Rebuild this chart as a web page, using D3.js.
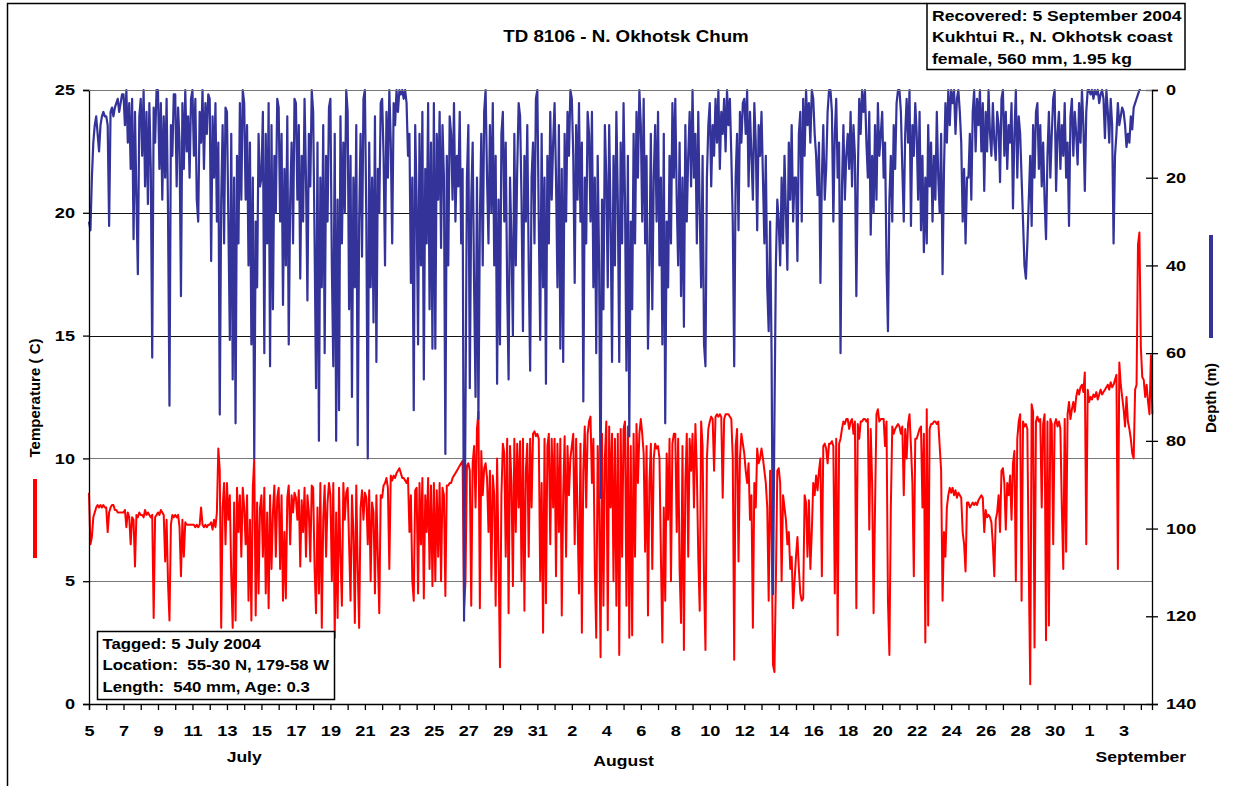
<!DOCTYPE html>
<html>
<head>
<meta charset="utf-8">
<script src="https://cdn.jsdelivr.net/npm/d3@7/dist/d3.min.js"></script>
<style>
  body { margin: 0; background: #fff; }
  svg { display: block; font-family: "Liberation Sans", Arial, sans-serif; font-weight: bold; }
</style>
</head>
<body>
<svg id="chart1" width="1239" height="786"></svg>
<script>
// logger samples, one every 2 hours from 5 July 00:00
const START_DATE = new Date(2004, 6, 5);
const END_DATE = new Date(2004, 8, 4, 15, 30);
const SAMPLES_PER_DAY = 12;

const temperatureC = [
  8.6, 6.5, 6.8, 7.6, 7.8, 8.0, 8.1, 8.0, 8.1, 8.0, 8.1, 8.0, // Jul 5
  8.0, 7.0, 7.8, 8.0, 8.1, 8.1, 7.9, 7.9, 7.8, 7.8, 7.8, 7.8,
  7.8, 7.9, 7.2, 7.8, 7.6, 6.5, 7.6, 7.5, 5.6, 7.7, 7.6, 7.8,
  7.7, 7.7, 7.6, 7.9, 7.7, 7.8, 7.7, 7.6, 7.7, 3.5, 7.6, 7.7,
  7.8, 7.7, 7.9, 7.8, 7.7, 5.8, 7.5, 4.9, 3.4, 7.3, 7.7, 7.6,
  7.7, 7.6, 7.7, 7.2, 5.2, 7.5, 6.0, 7.4, 7.3, 7.3, 7.3, 7.3, // Jul 10
  7.3, 7.3, 7.2, 7.3, 7.2, 7.3, 8.0, 7.3, 7.2, 7.3, 7.2, 7.3,
  7.3, 7.4, 7.1, 7.5, 7.2, 7.8, 10.4, 9.5, 3.1, 8.0, 9.0, 6.5,
  9.0, 7.5, 8.5, 5.2, 3.1, 8.2, 3.4, 8.8, 7.0, 8.5, 6.0, 8.8,
  8.0, 6.5, 8.5, 4.2, 7.5, 3.4, 8.8, 10.0, 3.6, 8.2, 4.5, 8.0,
  8.5, 6.0, 8.8, 4.5, 7.8, 3.9, 8.5, 5.5, 7.8, 8.9, 6.0, 8.4, // Jul 15
  8.8, 5.5, 8.5, 4.2, 7.0, 4.3, 8.4, 8.9, 6.5, 8.5, 7.8, 8.6,
  8.4, 7.5, 8.7, 5.6, 8.3, 7.0, 8.8, 6.0, 8.5, 7.8, 5.8, 8.9,
  8.8, 5.5, 3.7, 8.0, 4.5, 9.0, 3.1, 7.5, 8.9, 6.0, 8.2, 9.0,
  8.5, 5.0, 9.0, 2.7, 7.8, 3.5, 8.8, 6.0, 4.0, 9.0, 7.5, 8.6,
  8.8, 6.5, 4.2, 8.5, 7.0, 3.3, 8.9, 5.5, 3.1, 8.0, 8.7, 7.5, // Jul 20
  8.6, 8.4, 6.5, 8.7, 5.0, 8.2, 7.8, 4.5, 8.5, 6.0, 3.7, 8.5,
  8.4, 8.9, 9.0, 9.2, 8.8, 5.5, 9.3, 9.1, 9.3, 9.2, 9.4, 9.5,
  9.6, 9.4, 9.2, 9.2, 9.1, 9.0, 9.2, 7.0, 8.5, 5.0, 4.2, 8.7,
  8.8, 4.5, 9.0, 6.5, 9.2, 4.3, 8.5, 7.0, 9.2, 5.5, 8.9, 4.8,
  9.0, 5.0, 8.7, 6.0, 9.0, 5.0, 8.8, 8.5, 4.4, 8.9, 8.9, 9.0, // Jul 25
  9.0, 9.2, 9.3, 9.4, 9.5, 9.6, 9.7, 9.8, 9.9, 3.9, 5.0, 9.7,
  9.8, 9.5, 4.0, 9.8, 10.5, 8.0, 11.2, 11.9, 3.9, 10.3, 8.5, 9.6,
  9.8, 9.2, 7.0, 9.5, 5.0, 9.3, 8.5, 4.0, 10.0, 6.0, 1.5, 8.5,
  10.6, 10.2, 6.0, 10.8, 3.7, 10.5, 9.0, 4.8, 10.8, 7.0, 10.6, 8.0,
  10.7, 5.0, 10.8, 3.8, 9.5, 10.6, 6.0, 10.8, 8.0, 11.0, 11.1, 10.9, // Jul 30
  11.0, 10.8, 5.0, 9.0, 2.9, 10.8, 4.1, 10.5, 11.0, 6.5, 10.8, 8.0,
  10.8, 5.2, 10.6, 7.0, 10.8, 3.6, 8.5, 10.9, 6.0, 10.5, 8.5, 10.0, // Aug 1
  10.5, 11.0, 6.5, 10.8, 7.5, 4.5, 10.6, 2.9, 9.5, 11.3, 8.0, 11.0,
  11.5, 11.7, 9.0, 10.8, 5.5, 2.7, 10.5, 8.0, 1.9, 11.0, 4.0, 10.0,
  11.5, 3.0, 11.3, 8.0, 11.0, 5.0, 10.8, 4.0, 11.0, 2.0, 11.2, 6.0,
  11.2, 11.5, 4.0, 11.3, 2.7, 10.5, 2.8, 11.0, 6.0, 11.4, 9.0, 11.0, // Aug 5
  11.6, 11.0, 10.2, 6.2, 10.5, 3.6, 9.0, 10.6, 5.5, 10.0, 10.6, 10.4,
  10.5, 10.0, 6.0, 2.5, 8.0, 4.2, 10.2, 7.5, 10.8, 5.0, 10.6, 11.0,
  11.0, 7.0, 10.8, 5.5, 3.3, 10.5, 2.2, 9.0, 11.0, 6.0, 10.8, 9.5,
  11.0, 8.0, 11.4, 9.5, 6.0, 3.8, 11.5, 10.5, 5.0, 2.2, 10.0, 11.2,
  11.5, 11.7, 11.6, 9.5, 11.7, 11.8, 11.7, 11.8, 11.7, 8.4, 11.6, 11.8, // Aug 10
  11.8, 11.8, 11.7, 11.6, 10.0, 1.8, 10.5, 11.2, 5.8, 10.0, 11.0, 10.6,
  10.2, 9.5, 9.0, 9.8, 7.5, 8.5, 3.1, 9.0, 8.0, 10.4, 9.8, 10.0,
  10.4, 10.0, 9.5, 9.0, 8.0, 4.2, 9.5, 7.0, 1.6, 1.3, 5.0, 9.5,
  9.6, 9.0, 5.0, 8.5, 8.0, 7.5, 6.5, 7.0, 5.5, 6.0, 3.9, 5.0,
  6.0, 6.8, 5.5, 4.5, 4.2, 4.3, 8.5, 8.2, 6.0, 8.3, 5.5, 7.0, // Aug 15
  9.0, 8.5, 9.3, 8.7, 9.5, 10.0, 5.2, 10.5, 10.6, 10.4, 9.8, 10.6,
  10.6, 10.7, 10.5, 4.5, 10.8, 2.8, 10.6, 10.8, 11.2, 11.5, 11.4, 11.6,
  11.6, 11.2, 11.5, 11.6, 11.0, 11.5, 3.9, 11.4, 10.8, 11.5, 11.5, 11.6,
  11.6, 11.5, 11.6, 7.1, 11.2, 9.0, 3.7, 8.0, 11.8, 12.0, 11.5, 11.6,
  11.6, 11.6, 10.5, 11.5, 4.2, 2.0, 8.0, 11.3, 11.0, 11.2, 11.3, 11.4, // Aug 20
  11.3, 11.0, 11.3, 8.5, 11.2, 10.0, 11.4, 11.8, 10.5, 9.0, 5.2, 10.8,
  10.8, 11.0, 11.2, 11.3, 8.0, 11.0, 2.5, 12.0, 3.2, 11.2, 11.4, 11.4,
  11.5, 11.5, 11.4, 11.5, 10.5, 9.5, 4.2, 7.0, 6.0, 8.0, 8.5, 8.8,
  8.6, 8.8, 8.5, 8.7, 8.4, 8.6, 8.5, 8.4, 7.0, 6.5, 5.4, 8.2,
  8.2, 8.0, 8.1, 8.2, 8.1, 8.2, 8.1, 8.3, 8.4, 8.5, 8.4, 7.0, // Aug 25
  7.9, 7.6, 7.7, 7.6, 7.4, 6.5, 5.2, 7.5, 7.8, 8.5, 7.0, 9.5,
  9.6, 9.0, 7.1, 9.0, 8.5, 9.3, 7.5, 9.8, 10.3, 5.0, 10.8, 11.5,
  11.8, 4.2, 11.5, 11.3, 11.4, 11.2, 5.5, 0.8, 12.2, 11.9, 2.3, 11.5,
  11.7, 11.5, 11.6, 8.0, 11.4, 11.8, 2.6, 11.5, 3.2, 11.6, 11.4, 6.5,
  11.4, 11.6, 11.3, 11.5, 11.2, 8.0, 5.5, 11.6, 6.2, 11.8, 12.3, 11.6, // Aug 30
  12.0, 12.3, 11.9, 12.5, 12.8, 12.6, 12.9, 13.0, 12.7, 13.5, 6.5, 12.8,
  12.3, 12.5, 12.4, 12.6, 12.5, 12.7, 12.4, 12.6, 12.8, 12.6, 12.7, 12.8, // Sep 1
  12.9, 13.0, 12.8, 13.1, 12.9, 13.0, 13.2, 13.4, 5.5, 13.9, 13.0, 12.5,
  12.0, 11.3, 12.5, 11.5, 11.2, 10.8, 10.2, 10.0, 12.8, 13.0, 18.7, 19.2,
  14.5, 13.3, 13.2, 12.5, 13.0, 12.3, 11.8, 14.2, 11.8 // Sep 4
];

const depthM = [
  30, 32, 20, 12, 8, 6, 10, 14, 8, 6, 5, 6, // Jul 5
  6, 8, 31, 5, 4, 6, 4, 3, 2, 5, 3, 1,
  1, 8, 0, 12, 3, 18, 2, 34, 5, 25, 42, 6,
  2, 15, 0, 22, 5, 26, 3, 18, 61, 4, 12, 0,
  0, 18, 3, 25, 6, 20, 2, 28, 72, 8, 15, 1,
  1, 22, 4, 12, 47, 3, 18, 0, 14, 6, 20, 2, // Jul 10
  0, 15, 2, 25, 30, 5, 12, 0, 18, 3, 10, 1,
  2, 39, 6, 20, 3, 30, 12, 74, 25, 8, 35, 4,
  5, 30, 57, 10, 66, 20, 76, 15, 35, 3, 25, 0,
  3, 25, 8, 40, 12, 58, 20, 84, 30, 45, 10, 22,
  20, 5, 60, 10, 35, 3, 63, 8, 50, 15, 28, 2, // Jul 15
  4, 30, 10, 49, 18, 40, 6, 58, 25, 12, 35, 2,
  3, 25, 8, 43, 15, 30, 2, 20, 48, 10, 22, 0,
  5, 35, 68, 12, 80, 20, 45, 8, 60, 15, 30, 4,
  2, 40, 63, 10, 80, 25, 73, 6, 35, 12, 28, 0,
  5, 50, 15, 70, 20, 45, 8, 81, 30, 10, 38, 2, // Jul 20
  0, 30, 84, 12, 45, 20, 53, 6, 62, 18, 28, 3,
  2, 15, 40, 5, 20, 0, 12, 35, 3, 8, 0, 5,
  0, 1, 0, 2, 0, 3, 15, 10, 44, 20, 73, 8,
  25, 58, 10, 40, 5, 66, 18, 35, 3, 50, 12, 59,
  3, 59, 10, 25, 5, 36, 8, 20, 83, 15, 40, 6, // Jul 25
  10, 25, 3, 30, 15, 22, 5, 35, 18, 121, 73, 20,
  8, 68, 25, 12, 45, 70, 20, 75, 30, 10, 40, 5,
  0, 20, 35, 8, 28, 3, 40, 15, 67, 25, 58, 10,
  5, 30, 12, 45, 66, 20, 35, 56, 10, 40, 18, 3,
  6, 25, 55, 15, 30, 8, 40, 64, 20, 12, 35, 2, // Jul 30
  0, 30, 57, 10, 45, 20, 67, 15, 35, 5, 25, 12,
  3, 20, 45, 8, 59, 18, 62, 10, 30, 5, 15, 0, // Aug 1
  2, 15, 44, 8, 25, 3, 30, 12, 71, 20, 35, 5,
  10, 30, 5, 45, 20, 60, 15, 40, 93, 25, 50, 8,
  20, 45, 8, 30, 62, 15, 40, 5, 25, 62, 12, 35,
  3, 25, 64, 15, 79, 30, 50, 10, 35, 5, 20, 0, // Aug 5
  8, 30, 2, 35, 15, 59, 40, 10, 50, 20, 8, 30,
  5, 40, 20, 58, 10, 76, 30, 45, 15, 35, 3, 20,
  2, 25, 40, 12, 47, 20, 54, 8, 30, 15, 5, 22,
  0, 20, 10, 35, 5, 28, 45, 15, 58, 63, 20, 8,
  3, 22, 8, 15, 2, 12, 0, 18, 5, 10, 2, 14, // Aug 10
  0, 8, 2, 15, 30, 63, 20, 10, 32, 5, 12, 3,
  2, 10, 0, 22, 5, 15, 25, 3, 12, 32, 8, 15,
  5, 20, 35, 15, 45, 55, 30, 60, 115, 75, 40, 25,
  30, 40, 20, 35, 15, 28, 41, 12, 25, 8, 30, 20,
  20, 39, 10, 5, 30, 2, 15, 0, 8, 3, 12, 0, // Aug 15
  2, 10, 15, 24, 12, 44, 20, 8, 25, 18, 5, 0,
  0, 5, 30, 10, 2, 20, 12, 60, 22, 8, 25, 15,
  10, 18, 5, 22, 8, 15, 47, 20, 2, 10, 0, 5,
  0, 12, 20, 5, 33, 15, 28, 8, 25, 3, 15, 10,
  5, 20, 12, 40, 55, 25, 15, 30, 8, 18, 3, 0, // Aug 20
  0, 5, 18, 30, 10, 2, 12, 0, 31, 8, 15, 3,
  10, 25, 5, 32, 15, 37, 20, 35, 8, 22, 12, 30,
  15, 25, 5, 20, 28, 10, 42, 18, 3, 12, 0, 8,
  0, 3, 0, 10, 2, 0, 5, 12, 30, 18, 35, 20,
  20, 10, 25, 5, 0, 14, 2, 8, 0, 14, 3, 23, // Aug 25
  5, 14, 0, 10, 15, 3, 12, 16, 5, 8, 21, 2,
  0, 15, 5, 18, 8, 12, 3, 27, 10, 0, 20, 6,
  10, 20, 30, 40, 43, 35, 25, 15, 31, 8, 20, 5,
  3, 18, 8, 22, 12, 25, 34, 15, 5, 20, 10, 2,
  0, 23, 10, 5, 18, 8, 15, 3, 20, 12, 31, 6, // Aug 30
  2, 15, 5, 10, 17, 3, 12, 0, 8, 23, 5, 0,
  0, 1, 0, 2, 0, 1, 0, 3, 1, 0, 2, 11, // Sep 1
  0, 5, 12, 2, 8, 35, 15, 10, 3, 8, 6, 4,
  5, 8, 13, 10, 12, 6, 9, 4, 3, 2, 1, 0,
  0 // Sep 4
];

const TITLE = 'TD 8106 - N. Okhotsk Chum';
const recoveredLines = ['Recovered: 5 September 2004', 'Kukhtui R., N. Okhotsk coast', 'female, 560 mm, 1.95 kg'];
const taggedLines = ['Tagged: 5 July 2004', 'Location:  55-30 N, 179-58 W', 'Length:  540 mm, Age: 0.3'];
const tempTicks = [0, 5, 10, 15, 20, 25];
const depthTicks = [0, 20, 40, 60, 80, 100, 120, 140];
const monthNames = ['July', 'August', 'September'];
const monthDates = [new Date(2004, 6, 14), new Date(2004, 7, 5), new Date(2004, 8, 4)];

const SVG1 = d3.select('#chart1');
const LEFT = 89, RIGHT = 1152, TOP = 90, BOTTOM = 704;
// the original picture is a bit wider than tall, text included
const STRETCH = 1.17;
const TICK_STRETCH = 1.25;

const X_SCALE = d3.scaleTime().domain([START_DATE, END_DATE]).range([LEFT, RIGHT]);
const Y_TEMP = d3.scaleLinear().domain([0, 25]).range([BOTTOM, TOP]);
const Y_DEPTH = d3.scaleLinear().domain([0, 140]).range([TOP, BOTTOM]);

// time of the i-th sample
const sampleTime = i => new Date(START_DATE.getTime() + i * 864e5 / SAMPLES_PER_DAY);

/**
 * Text that is widened along x only
 */
const addText = (parent, str, x, y, size, anchor = 'start', sx = STRETCH) =>
    parent.append('text')
        .attr('transform', `translate(${x},${y}) scale(${sx},1)`)
        .style('text-anchor', anchor)
        .style('font-size', size + 'px')
        .style('white-space', 'pre')
        .text(str);

// outer frame (cropped picture: only left and top edges show)
SVG1.append('path')
    .attr('d', 'M7.5,786 V3.5 H927')
    .style('fill', 'none')
    .style('stroke', '#000')
    .style('stroke-width', 1.5);

// horizontal gridlines
SVG1.append('g')
    .attr('id', 'grid')
    .selectAll('line')
    .data(tempTicks.filter(t => t > 0))
    .join('line')
    .attr('x1', LEFT).attr('x2', RIGHT)
    .attr('y1', d => Math.round(Y_TEMP(d)) + 0.5)
    .attr('y2', d => Math.round(Y_TEMP(d)) + 0.5)
    .style('stroke', d => (d === 20 || d === 15) ? '#111' : '#777')
    .style('stroke-width', 1);

// temperature line, drawn under depth
SVG1.append('path')
    .datum(temperatureC)
    .attr('d', d3.line().x((d, i) => X_SCALE(sampleTime(i))).y(d => Y_TEMP(d)))
    .style('fill', 'none')
    .style('stroke', '#ff0000')
    .style('stroke-width', 2)
    .style('stroke-linejoin', 'round');

SVG1.append('path')
    .datum(depthM)
    .attr('d', d3.line().x((d, i) => X_SCALE(sampleTime(i))).y(d => Y_DEPTH(d)))
    .style('fill', 'none')
    .style('stroke', '#333399')
    .style('stroke-width', 2.2)
    .style('stroke-linejoin', 'round');

// left axis (temperature)
const Y_AXIS_LEFT = SVG1.append('g')
    .attr('transform', `translate(${LEFT},0)`)
    .call(d3.axisLeft(Y_TEMP).tickValues(tempTicks).tickSize(6).tickPadding(8));
Y_AXIS_LEFT.selectAll('text').attr('x', -14 / TICK_STRETCH);

// right axis (depth) with cross ticks
const Y_AXIS_RIGHT = SVG1.append('g')
    .attr('transform', `translate(${RIGHT},0)`)
    .call(d3.axisRight(Y_DEPTH).tickValues(depthTicks).tickSize(6).tickPadding(8));
Y_AXIS_RIGHT.selectAll('.tick line').attr('x1', -6);
Y_AXIS_RIGHT.selectAll('text').attr('x', 14 / TICK_STRETCH);

// bottom axis: a tick every day, a label every second day
const DAYS = d3.timeDay.range(START_DATE, END_DATE);
const X_AXIS = SVG1.append('g')
    .attr('transform', `translate(0,${BOTTOM})`)
    .call(d3.axisBottom(X_SCALE)
        .tickValues(DAYS)
        .tickSize(6)
        .tickPadding(16)
        .tickFormat((d, i) => i % 2 === 0 ? d3.timeFormat('%-d')(d) : ''));

[Y_AXIS_LEFT, Y_AXIS_RIGHT, X_AXIS].forEach(ax => {
    ax.select('.domain').style('stroke', '#000').style('stroke-width', 1.3);
    ax.selectAll('.tick line').style('stroke', '#000').style('stroke-width', 1.3);
    ax.selectAll('text')
        .attr('transform', `scale(${TICK_STRETCH},1)`)
        .style('font-family', '"Liberation Sans", Arial, sans-serif')
        .style('font-weight', 'bold')
        .style('font-size', '14.5px')
        .style('fill', '#000');
});
// plot top edge
SVG1.append('line')
    .attr('x1', LEFT).attr('x2', RIGHT)
    .attr('y1', TOP + 0.5).attr('y2', TOP + 0.5)
    .style('stroke', '#777');

// month names under the day labels
monthNames.forEach((m, i) => addText(SVG1, m, X_SCALE(monthDates[i]), i === 1 ? 766 : 762, 15, 'middle'));

// title
addText(SVG1, TITLE, 626, 42, 16, 'middle');

// axis titles with their colour keys
SVG1.append('text')
    .attr('transform', 'translate(40,398) rotate(-90)')
    .style('text-anchor', 'middle')
    .style('font-size', '15px')
    .text('Temperature ( C)');
SVG1.append('rect')
    .attr('x', 33).attr('y', 479).attr('width', 4).attr('height', 79)
    .style('fill', '#ff0000');

SVG1.append('text')
    .attr('transform', 'translate(1216,398) rotate(-90)')
    .style('text-anchor', 'middle')
    .style('font-size', '15px')
    .text('Depth (m)');
SVG1.append('rect')
    .attr('x', 1209).attr('y', 235).attr('width', 4).attr('height', 103)
    .style('fill', '#333399');

/**
 * Boxed note with a few lines of text
 */
const buildNote = (lines, x, y, w, h, sx) => {
    const g = SVG1.append('g');
    g.append('rect')
        .attr('x', x).attr('y', y).attr('width', w).attr('height', h)
        .style('fill', '#fff')
        .style('stroke', '#000')
        .style('stroke-width', 1.5);
    lines.forEach((line, i) => addText(g, line, x + 5, y + 17 + i * 21.7, 15, 'start', sx));
};
buildNote(taggedLines, 97.5, 631.5, 237, 68, 1.12);
buildNote(recoveredLines, 927, 3.5, 258, 66, 1.17);
</script>
</body>
</html>
